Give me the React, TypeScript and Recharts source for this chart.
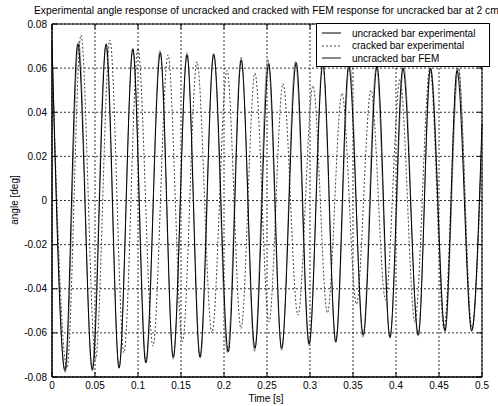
import { LineChart, Line, XAxis, YAxis, CartesianGrid, ReferenceArea } from "recharts";

const FONT = '"Liberation Sans", Arial, Helvetica, sans-serif';

const xTicks = [0, 0.05, 0.1, 0.15, 0.2, 0.25, 0.3, 0.35, 0.4, 0.45, 0.5];
const yTicks = [-0.08, -0.06, -0.04, -0.02, 0, 0.02, 0.04, 0.06, 0.08];

// [time s, angle deg] at the turning points of each record
const uncrackedExp: [number, number][] = [
  [0, 0.072], [0.015, -0.077], [0.03, 0.071], [0.047, -0.077], [0.063, 0.071],
  [0.078, -0.076], [0.094, 0.0686], [0.109, -0.0736], [0.126, 0.067], [0.141, -0.071],
  [0.157, 0.066], [0.172, -0.071], [0.188, 0.0665], [0.205, -0.0686], [0.22, 0.0636],
  [0.236, -0.067], [0.252, 0.062], [0.267, -0.067], [0.284, 0.0625], [0.299, -0.065],
  [0.315, 0.062], [0.33, -0.064], [0.345, 0.061], [0.362, -0.061], [0.378, 0.061],
  [0.393, -0.062], [0.408, 0.06], [0.426, -0.061], [0.44, 0.06], [0.457, -0.059],
  [0.471, 0.059], [0.488, -0.059], [0.5, 0.035],
];

const crackedExp: [number, number][] = [
  [0, 0.068], [0.0174, -0.076], [0.0337, 0.075], [0.0506, -0.072], [0.0674, 0.0727],
  [0.0837, -0.069], [0.0999, 0.069], [0.1174, -0.066], [0.1349, 0.066], [0.1517, -0.064],
  [0.1686, 0.063], [0.186, -0.06], [0.2035, 0.059], [0.2198, -0.058], [0.236, 0.0577],
  [0.2523, -0.055], [0.2686, 0.053], [0.286, -0.052], [0.3035, 0.052], [0.3203, -0.051],
  [0.3372, 0.0486], [0.354, -0.047], [0.3709, 0.05], [0.3878, -0.045], [0.4047, 0.055],
  [0.422, -0.055], [0.4395, 0.06], [0.4558, -0.058], [0.4721, 0.062], [0.4884, -0.058],
  [0.5, 0.03],
];

const uncrackedFem: [number, number][] = [
  [0, 0.071], [0.0155, -0.078], [0.031, 0.072], [0.0465, -0.0765], [0.0625, 0.07],
  [0.078, -0.0755], [0.094, 0.069], [0.1095, -0.0735], [0.1255, 0.068], [0.141, -0.072],
  [0.157, 0.067], [0.1725, -0.0715], [0.188, 0.066], [0.204, -0.069], [0.22, 0.065],
  [0.2355, -0.0685], [0.251, 0.064], [0.267, -0.068], [0.283, 0.063], [0.299, -0.066],
  [0.3145, 0.062], [0.33, -0.0645], [0.346, 0.062], [0.3615, -0.062], [0.377, 0.061],
  [0.393, -0.0625], [0.409, 0.061], [0.4255, -0.0615], [0.4405, 0.06], [0.457, -0.0595],
  [0.4725, 0.06], [0.488, -0.0595], [0.5, 0.03],
];

const toRows = (pts: [number, number][]) => pts.map(([t, v]) => ({ t, v }));

const title =
  "Experimental angle response of uncracked and cracked with FEM response for uncracked bar at 2 cm";

const legendItems = [
  { name: "uncracked bar experimental", color: "#000", dash: undefined },
  { name: "cracked bar experimental", color: "#444", dash: "2 2" },
  { name: "uncracked bar FEM", color: "#111", dash: undefined },
];

const PLOT_TOP = 24;
const PLOT_RIGHT = 482;
const PLOT_LEFT = 52;
const TICK = 5;

function XTick({ x, y, payload }: any) {
  return (
    <g>
      <line x1={x} x2={x} y1={y} y2={y - TICK} stroke="#000" />
      <line x1={x} x2={x} y1={PLOT_TOP} y2={PLOT_TOP + TICK} stroke="#000" />
      <text x={x} y={y + 12} textAnchor="middle" fontSize={10} fontFamily={FONT} fill="#000">
        {String(payload.value)}
      </text>
    </g>
  );
}

function YTick({ x, y, payload }: any) {
  return (
    <g>
      <line x1={x} x2={x + TICK} y1={y} y2={y} stroke="#000" />
      <line x1={PLOT_RIGHT} x2={PLOT_RIGHT - TICK} y1={y} y2={y} stroke="#000" />
      <text x={x - 5} y={y} dy="0.35em" textAnchor="end" fontSize={10} fontFamily={FONT} fill="#000">
        {String(payload.value)}
      </text>
    </g>
  );
}

export default function App() {
  return (
    <div
      style={{
        position: "absolute",
        left: 0,
        top: 0,
        width: 498,
        height: 406,
        overflow: "hidden",
        background: "#fff",
        fontFamily: FONT,
      }}
    >
      <LineChart width={498} height={406} margin={{ top: PLOT_TOP, right: 498 - PLOT_RIGHT, left: 0, bottom: 0 }}>
        <CartesianGrid stroke="#000" strokeDasharray="2 2" strokeWidth={0.8} />
        <XAxis
          dataKey="t"
          type="number"
          domain={[0, 0.5]}
          ticks={xTicks}
          height={29}
          tickSize={0}
          tickMargin={0}
          tickLine={false}
          axisLine={{ stroke: "#000" }}
          tick={<XTick />}
          allowDuplicatedCategory={false}
        />
        <YAxis
          type="number"
          domain={[-0.08, 0.08]}
          ticks={yTicks}
          width={PLOT_LEFT}
          tickSize={0}
          tickMargin={0}
          tickLine={false}
          axisLine={{ stroke: "#000" }}
          tick={<YTick />}
        />
        <ReferenceArea x1={0} x2={0.5} y1={-0.08} y2={0.08} fill="none" stroke="#000" />
        <Line
          data={toRows(uncrackedFem)}
          dataKey="v"
          type="monotone"
          stroke="#8f8f8f"
          strokeWidth={1}
          dot={false}
          isAnimationActive={false}
        />
        <Line
          data={toRows(crackedExp)}
          dataKey="v"
          type="monotone"
          stroke="#444"
          strokeDasharray="2 2"
          strokeWidth={1}
          dot={false}
          isAnimationActive={false}
        />
        <Line
          data={toRows(uncrackedExp)}
          dataKey="v"
          type="monotone"
          stroke="#000"
          strokeWidth={1}
          dot={false}
          isAnimationActive={false}
        />
      </LineChart>

      <div
        style={{
          position: "absolute",
          left: 34,
          top: 5,
          fontSize: 10.3,
          lineHeight: "11px",
          whiteSpace: "nowrap",
        }}
      >
        {title}
      </div>

      <div
        style={{
          position: "absolute",
          left: 266,
          top: 393,
          transform: "translateX(-50%)",
          fontSize: 10,
          lineHeight: "11px",
          whiteSpace: "nowrap",
        }}
      >
        Time [s]
      </div>

      <div
        style={{
          position: "absolute",
          left: 14,
          top: 200,
          transform: "translate(-50%, -50%) rotate(-90deg)",
          fontSize: 10,
          lineHeight: "11px",
          whiteSpace: "nowrap",
        }}
      >
        angle [deg]
      </div>

      <div
        style={{
          position: "absolute",
          left: 316,
          top: 23,
          width: 174,
          height: 44,
          border: "1px solid #000",
          background: "#fff",
          boxSizing: "border-box",
          paddingTop: 3,
        }}
      >
        {legendItems.map((item) => (
          <div key={item.name} style={{ display: "flex", alignItems: "center", height: 12.5 }}>
            <svg width={30} height={10} style={{ marginLeft: 5 }}>
              <line x1={0} x2={19} y1={5} y2={5} stroke={item.color} strokeDasharray={item.dash} />
            </svg>
            <span style={{ fontSize: 10, whiteSpace: "nowrap" }}>{item.name}</span>
          </div>
        ))}
      </div>
    </div>
  );
}
